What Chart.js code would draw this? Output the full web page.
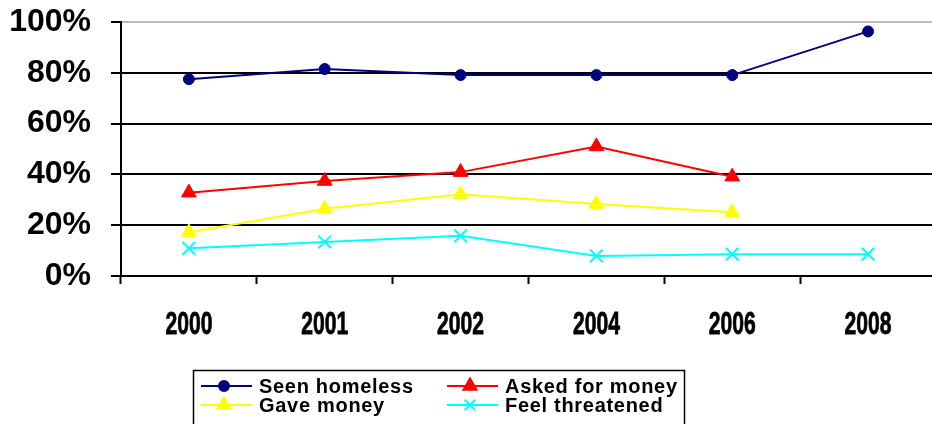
<!DOCTYPE html>
<html>
<head>
<meta charset="utf-8">
<script src="https://cdn.jsdelivr.net/npm/chart.js@4/dist/chart.umd.min.js"></script>
<style>
  html, body { margin: 0; padding: 0; background: #fff; overflow: hidden; }
  #wrap { width: 932px; height: 424px; position: relative; overflow: hidden; }
</style>
</head>
<body>
<div id="wrap"><canvas id="myChart" width="947" height="424"></canvas></div>
<script>
// survey years and percentages
const years = ['2000', '2001', '2002', '2004', '2006', '2008'];
const seenHomeless = [77.5, 81.5, 79.1, 79.1, 79.1, 96.3];
const askedForMoney = [32.8, 37.4, 40.9, 51.0, 39.1, null];
const gaveMoney = [17.2, 26.5, 32.2, 28.3, 25.1, null];
const feelThreatened = [10.9, 13.4, 15.8, 7.9, 8.6, 8.6];
const yTicks = [0, 20, 40, 60, 80, 100];

function makeSeries(label, values, color, style, radius) {
    return {
        label: label,
        data: values,
        borderColor: color,
        backgroundColor: color,
        borderWidth: 2,
        pointStyle: style,
        pointRadius: radius,
        pointHoverRadius: radius,
        pointBorderWidth: style === 'crossRot' ? 2 : 1,
        tension: 0,
        spanGaps: false
    };
}

const chartData = {
    labels: years,
    datasets: [
        makeSeries('Seen homeless', seenHomeless, '#000080', 'circle', 5.5),
        makeSeries('Asked for money', askedForMoney, '#FF0000', 'triangle', 8.5),
        makeSeries('Gave money', gaveMoney, '#FFFF00', 'triangle', 8.5),
        makeSeries('Feel threatened', feelThreatened, '#00FFFF', 'crossRot', 9)
    ]
};

// year labels are condensed in the original, so draw them squeezed
const narrowYears = {
    id: 'narrowYears',
    afterDraw(chart) {
        const c = chart.ctx;
        const xs = chart.scales.x;
        c.save();
        c.font = 'bold 32px "Liberation Sans", Arial, sans-serif';
        c.fillStyle = '#000';
        c.strokeStyle = '#000';
        c.lineWidth = 0.8;
        c.textAlign = 'center';
        c.textBaseline = 'middle';
        xs.ticks.forEach(function(t, i) {
            const px = xs.getPixelForTick(i);
            c.save();
            c.translate(px, 325);
            c.scale(0.66, 1);
            c.fillText(chart.data.labels[i], 0, 0);
            c.strokeText(chart.data.labels[i], 0, 0);
            c.restore();
        });
        c.restore();
    }
};

// legend box drawn under the plot, two columns like the original
const boxLegend = {
    id: 'boxLegend',
    afterDraw(chart) {
        const c = chart.ctx;
        const sets = chart.data.datasets;
        const cols = [201, 447];
        const rows = [386, 405];
        c.save();
        c.strokeStyle = '#000';
        c.lineWidth = 1.5;
        c.strokeRect(193.5, 370.5, 491, 60);
        c.font = 'bold 20px "Liberation Sans", Arial, sans-serif';
        c.textBaseline = 'middle';
        c.letterSpacing = '0.7px';
        sets.forEach(function(ds, i) {
            const x = cols[i % 2];
            const y = rows[Math.floor(i / 2)];
            c.strokeStyle = ds.borderColor;
            c.fillStyle = ds.backgroundColor;
            c.lineWidth = 2;
            c.beginPath();
            c.moveTo(x, y);
            c.lineTo(x + 51, y);
            c.stroke();
            Chart.helpers.drawPoint(c, {
                pointStyle: ds.pointStyle,
                radius: ds.pointStyle === 'circle' ? 5 : 7.5,
                borderWidth: ds.pointBorderWidth,
                rotation: 0
            }, x + 23, y);
            c.fillStyle = '#000';
            c.fillText(ds.label, x + 58, y + 1);
        });
        c.restore();
    }
};

const chartOptions = {
    responsive: false,
    animation: false,
    layout: { padding: { top: 22, right: 0, bottom: 78, left: 0 } },
    plugins: {
        legend: { display: false },
        tooltip: { enabled: false }
    },
    scales: {
        x: {
            type: 'category',
            offset: true,
            afterFit: function(axis) { axis.height = 70; },
            grid: {
                offset: true,
                drawOnChartArea: false,
                drawTicks: true,
                tickLength: 8,
                tickWidth: 2,
                tickColor: '#000'
            },
            border: { display: true, color: '#000', width: 2 },
            ticks: {
                color: 'rgba(0,0,0,0)',
                padding: 22,
                maxRotation: 0,
                font: { family: '"Liberation Sans", Arial, sans-serif', size: 20, weight: 'bold' }
            }
        },
        y: {
            min: 0,
            max: 100,
            afterFit: function(axis) {
                axis.width = 121;
                axis.paddingTop = 0;
                axis.paddingBottom = 0;
            },
            afterBuildTicks: function(axis) {
                axis.ticks = yTicks.map(function(v) { return { value: v }; });
            },
            grid: {
                color: function(ctx) { return ctx.tick && ctx.tick.value === 100 ? '#bbbbbb' : '#000'; },
                lineWidth: 2,
                drawTicks: true,
                tickLength: 10,
                tickColor: '#000'
            },
            border: { display: true, color: '#000', width: 2 },
            ticks: {
                color: '#000',
                padding: 20,
                callback: function(v) { return v + '%'; },
                font: { family: '"Liberation Sans", Arial, sans-serif', size: 32, weight: 'bold' }
            }
        }
    }
};

window.onload = function() {
    const ctx = document.getElementById('myChart').getContext('2d');
    const myChart = new Chart(ctx, {
        type: 'line',
        data: chartData,
        options: chartOptions,
        plugins: [narrowYears, boxLegend]
    });
};
</script>
</body>
</html>
